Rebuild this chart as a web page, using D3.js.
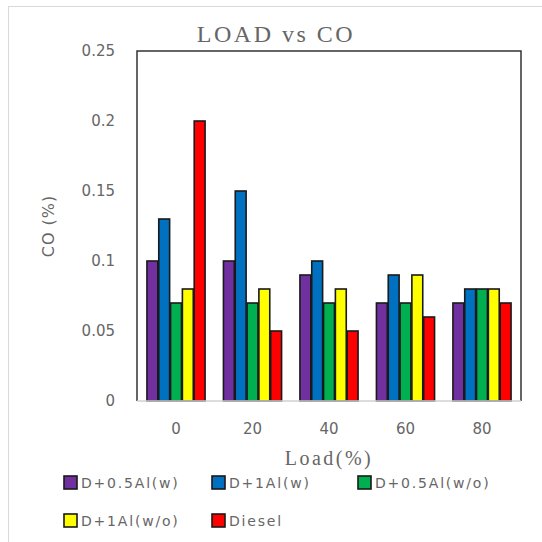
<!DOCTYPE html>
<html lang="en">
<head>
<meta charset="UTF-8">
<title>LOAD vs CO</title>
<script src="https://cdn.jsdelivr.net/npm/d3@7/dist/d3.min.js"></script>
<style>
  body { margin: 0; background: #fff; }
</style>
</head>
<body>
<script>
// data
var loads = ["0", "20", "40", "60", "80"];
var seriesNames = ["D+0.5Al(w)", "D+1Al(w)", "D+0.5Al(w/o)", "D+1Al(w/o)", "Diesel"];
var seriesColors = ["#7030A0", "#0070C0", "#00B050", "#FFFF00", "#FF0000"];
var d05w  = [0.10, 0.10, 0.09, 0.07, 0.07];
var d1w   = [0.13, 0.15, 0.10, 0.09, 0.08];
var d05wo = [0.07, 0.07, 0.07, 0.07, 0.08];
var d1wo  = [0.08, 0.08, 0.08, 0.09, 0.08];
var diesel = [0.20, 0.05, 0.05, 0.06, 0.07];
var yTicks = [0, 0.05, 0.1, 0.15, 0.2, 0.25];

var seriesValues = [d05w, d1w, d05wo, d1wo, diesel];

var width = 542, height = 542;
var svg = d3.select("body").append("svg")
    .attr("width", width)
    .attr("height", height);

// outer frame
svg.append("rect")
    .attr("x", 8.5).attr("y", 6.5)
    .attr("width", 560).attr("height", 560)
    .attr("fill", "#fff")
    .attr("stroke", "#d9d9d9");

// plot area
var pLeft = 137, pRight = 521, pTop = 51, pBottom = 401;

var x0 = d3.scaleBand().domain(loads).range([pLeft, pRight]).paddingInner(0.24).paddingOuter(0.13);
var x1 = d3.scaleBand().domain(d3.range(seriesNames.length)).range([0, x0.bandwidth()]).paddingInner(0.08);
var y = d3.scaleLinear().domain([0, 0.25]).range([pBottom, pTop]);

var tickFont = "'DejaVu Sans', Verdana, sans-serif";
var textColor = "#666";

// y tick labels
svg.append("g").selectAll("text")
    .data(yTicks).enter().append("text")
    .attr("x", 115)
    .attr("y", function(d){ return y(d); })
    .attr("dy", "0.35em")
    .attr("text-anchor", "end")
    .attr("font-family", tickFont)
    .attr("font-size", 15)
    .attr("fill", textColor)
    .text(function(d){ return d; });

// x tick labels
svg.append("g").selectAll("text")
    .data(loads).enter().append("text")
    .attr("x", function(d){ return x0(d) + x0.bandwidth() / 2; })
    .attr("y", 434)
    .attr("text-anchor", "middle")
    .attr("font-family", tickFont)
    .attr("font-size", 15)
    .attr("fill", textColor)
    .text(function(d){ return d; });

// bars
var groups = svg.append("g").selectAll("g")
    .data(loads).enter().append("g")
    .attr("transform", function(d){ return "translate(" + x0(d) + ",0)"; });

groups.selectAll("rect")
    .data(function(d, i){
        return seriesValues.map(function(s, k){ return {k: k, v: s[i]}; });
    })
    .enter().append("rect")
    .attr("x", function(d){ return x1(d.k); })
    .attr("y", function(d){ return y(d.v); })
    .attr("width", x1.bandwidth())
    .attr("height", function(d){ return y(0) - y(d.v); })
    .attr("fill", function(d){ return seriesColors[d.k]; })
    .attr("stroke", "#1a1a1a")
    .attr("stroke-width", 1.6);

// plot border (left, top, right dark; bottom light)
svg.append("path")
    .attr("d", "M" + pLeft + "," + pBottom + "V" + pTop + "H" + pRight + "V" + pBottom)
    .attr("fill", "none")
    .attr("stroke", "#333")
    .attr("stroke-width", 1.5);
svg.append("line")
    .attr("x1", pLeft).attr("x2", pRight)
    .attr("y1", pBottom).attr("y2", pBottom)
    .attr("stroke", "#d0d0d0")
    .attr("stroke-width", 1.5);

// title
svg.append("text")
    .attr("x", 276).attr("y", 42)
    .attr("text-anchor", "middle")
    .attr("font-family", "'Liberation Serif', 'DejaVu Serif', serif")
    .attr("font-size", 24)
    .attr("letter-spacing", 2.5)
    .attr("fill", textColor)
    .text("LOAD vs CO");

// x axis title
svg.append("text")
    .attr("x", (pLeft + pRight) / 2).attr("y", 465)
    .attr("text-anchor", "middle")
    .attr("font-family", "'Liberation Serif', 'DejaVu Serif', serif")
    .attr("font-size", 20)
    .attr("letter-spacing", 2.5)
    .attr("fill", textColor)
    .text("Load(%)");

// y axis title
svg.append("text")
    .attr("transform", "translate(54," + ((pTop + pBottom) / 2) + ") rotate(-90)")
    .attr("text-anchor", "middle")
    .attr("font-family", tickFont)
    .attr("font-size", 16)
    .attr("letter-spacing", 1)
    .attr("fill", textColor)
    .text("CO (%)");

// legend
var legendPos = [[64, 483], [212, 483], [358, 483], [64, 521], [212, 521]];
var legend = svg.append("g").selectAll("g")
    .data(seriesNames).enter().append("g")
    .attr("transform", function(d, i){ return "translate(" + legendPos[i][0] + "," + legendPos[i][1] + ")"; });

legend.append("rect")
    .attr("x", 0).attr("y", -7)
    .attr("width", 13).attr("height", 13)
    .attr("fill", function(d, i){ return seriesColors[i]; })
    .attr("stroke", "#1a1a1a")
    .attr("stroke-width", 1.6);

legend.append("text")
    .attr("x", 17).attr("y", 0)
    .attr("dy", "0.36em")
    .attr("font-family", tickFont)
    .attr("font-size", 14)
    .attr("letter-spacing", 1.8)
    .attr("fill", textColor)
    .text(function(d){ return d; });
</script>
</body>
</html>
